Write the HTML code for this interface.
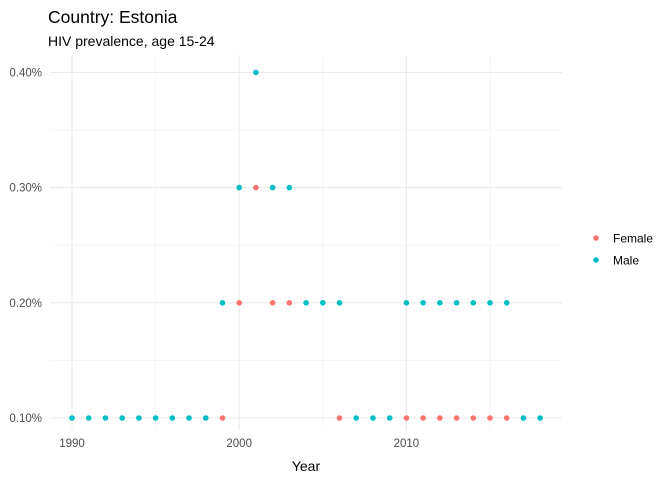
<!DOCTYPE html>
<html><head><meta charset="utf-8"><style>
body{margin:0;background:#fff;font-family:"Liberation Sans",Arial,sans-serif;}
</style></head><body>
<svg id="chart" width="672" height="480" xmlns="http://www.w3.org/2000/svg">
<text x="48" y="23" font-size="17.5" fill="#000">Country: Estonia</text>
<text x="48" y="46" font-size="14" fill="#000">HIV prevalence, age 15-24</text>
<g id="grid"></g><g id="axes"></g><g id="points"></g>
<text x="306" y="471" font-size="14" text-anchor="middle" fill="#000">Year</text>
<g>
<circle cx="596" cy="238" r="2.8" fill="#F8766D"/>
<text x="613" y="242.5" font-size="12" fill="#000">Female</text>
<circle cx="596" cy="260" r="2.8" fill="#00BFC4"/>
<text x="613" y="264.5" font-size="12" fill="#000">Male</text>
</g>
</svg>
<script>
const xTicks=[1990,2000,2010];
const xMinor=[1995,2005,2015];
const yTicks=[0.1,0.2,0.3,0.4];
const yMinor=[0.15,0.25,0.35];
const yLabels=["0.10%","0.20%","0.30%","0.40%"];
const femaleYears=[1999,2000,2001,2002,2003,2006,2010,2011,2012,2013,2014,2015,2016];
const femaleValues=[0.1,0.2,0.3,0.2,0.2,0.1,0.1,0.1,0.1,0.1,0.1,0.1,0.1];
const maleYears=[1990,1991,1992,1993,1994,1995,1996,1997,1998,1999,2000,2001,2002,2003,2004,2005,2006,2007,2008,2009,2010,2011,2012,2013,2014,2015,2016,2017,2018];
const maleValues=[0.1,0.1,0.1,0.1,0.1,0.1,0.1,0.1,0.1,0.2,0.3,0.4,0.3,0.3,0.2,0.2,0.2,0.1,0.1,0.1,0.2,0.2,0.2,0.2,0.2,0.2,0.2,0.1,0.1];
const NS="http://www.w3.org/2000/svg";
const X=y=>72+(y-1990)*16.72;
const Y=v=>418-(v-0.1)*1152;
const L=50,R=562,T=55,B=430;
function mk(tag,attrs,parent){const e=document.createElementNS(NS,tag);for(const k in attrs)e.setAttribute(k,attrs[k]);document.getElementById(parent).appendChild(e);return e;}
xMinor.forEach(t=>{const e=mk('line',{x1:X(t),x2:X(t),y1:T,y2:B,stroke:'#f0f0f0','stroke-width':0.6},'grid');

});
yMinor.forEach(t=>{const e=mk('line',{x1:L,x2:R,y1:Y(t),y2:Y(t),stroke:'#f0f0f0','stroke-width':0.6},'grid');

});
xTicks.forEach(t=>{const e=mk('line',{x1:X(t),x2:X(t),y1:T,y2:B,stroke:'#ebebeb','stroke-width':1.1},'grid');


const l=mk('text',{x:X(t),y:447,'font-size':11.5,'text-anchor':'middle',fill:'#4d4d4d'},'axes');l.textContent=t;

});
yTicks.forEach((t,i)=>{const e=mk('line',{x1:L,x2:R,y1:Y(t),y2:Y(t),stroke:'#ebebeb','stroke-width':1.1},'grid');


const l=mk('text',{x:42,y:Y(t)+4,'font-size':11.5,'text-anchor':'end',fill:'#4d4d4d'},'axes');l.textContent=yLabels[i];

});
femaleYears.forEach((yr,i)=>{const c=mk('circle',{cx:X(yr),cy:Y(femaleValues[i]),r:2.8,fill:'#F8766D'},'points');

});
maleYears.forEach((yr,i)=>{const c=mk('circle',{cx:X(yr),cy:Y(maleValues[i]),r:2.8,fill:'#00BFC4'},'points');

});
</script>
</body></html>
